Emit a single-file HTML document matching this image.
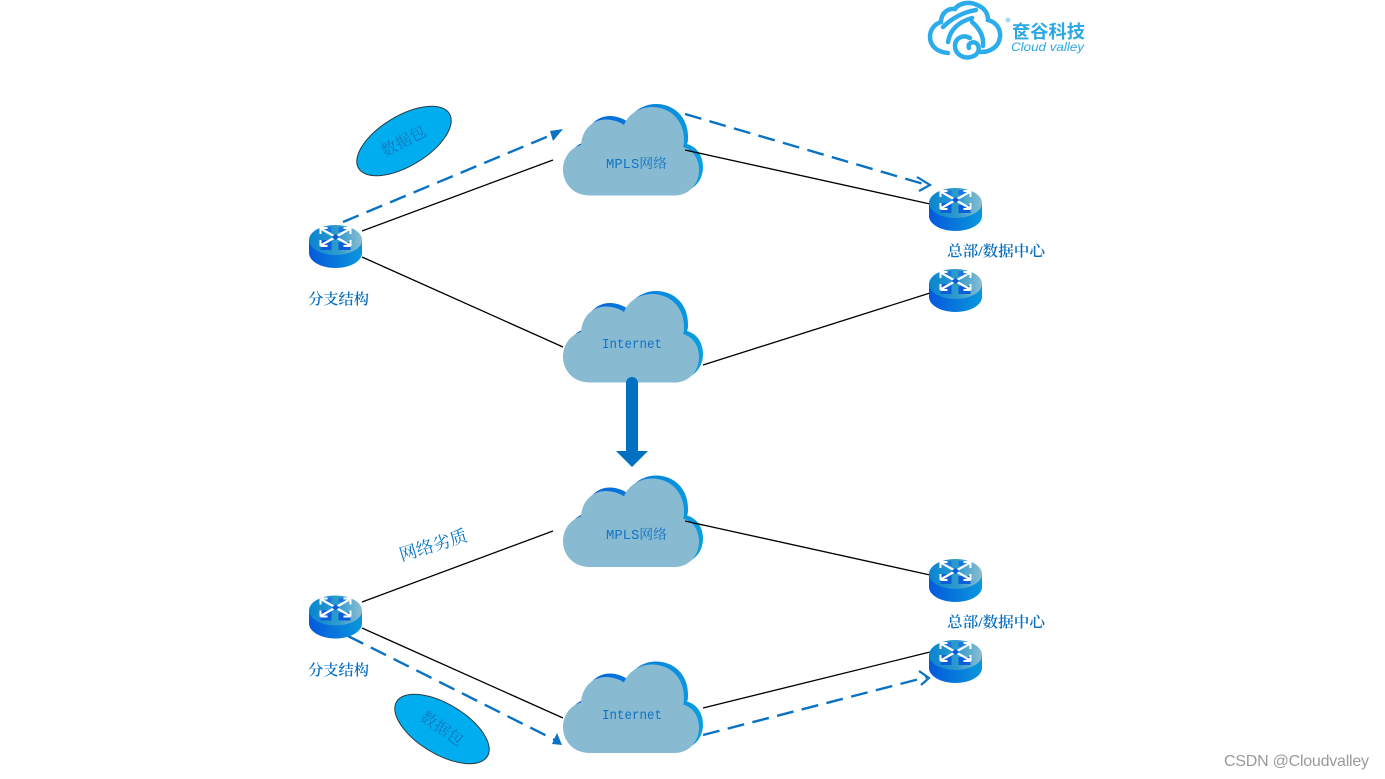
<!DOCTYPE html>
<html><head><meta charset="utf-8"><style>
html,body{margin:0;padding:0;background:#fff;width:1385px;height:779px;overflow:hidden}
svg{display:block}
.l{font-family:"Liberation Serif","Noto Serif CJK SC",serif;fill:#0a6fc0;font-size:15px;font-weight:600}
.c{font-family:"Liberation Mono","Noto Serif CJK SC",monospace;fill:#1272c4;font-size:13.5px;font-weight:400}
.e{font-family:"Liberation Serif","Noto Serif CJK SC",serif;fill:#1478c0;font-size:16px}
.p{font-family:"Liberation Serif","Noto Serif CJK SC",serif;fill:#0a78c8;font-size:17.5px;font-weight:400}
.k{stroke:#000;stroke-width:1.3;fill:none}
.d{stroke:#0a72c2;stroke-width:2.4;fill:none;stroke-dasharray:17 8.5}
.o{stroke:#0a72c2;stroke-width:2.2;fill:none}
</style></head><body>
<svg width="1385" height="779" viewBox="0 0 1385 779" xmlns="http://www.w3.org/2000/svg">
<defs>
<linearGradient id="cb" x1="0" y1="0" x2="1" y2="0"><stop offset="0" stop-color="#0558d8"/><stop offset="1" stop-color="#0aa0e0"/></linearGradient>
<linearGradient id="rt" x1="0" y1="0" x2="1" y2="0"><stop offset="0" stop-color="#0884d0"/><stop offset="0.55" stop-color="#2f9ccc"/><stop offset="1" stop-color="#8dbdd2"/></linearGradient>
<linearGradient id="rs" x1="0" y1="0" x2="1" y2="0"><stop offset="0" stop-color="#0558dc"/><stop offset="1" stop-color="#0a98dc"/></linearGradient>
<g id="cloud">
<path fill="url(#cb)" d="M594,192C576,192 567,179 567,167C567,155 574,145 585,142C586,127 596,116 610,116C617,116 624,119 628,122C632,111 644,104 656,104C674,104 688,117 688,137C688,140 688,142 687,144C698,147 703,157 703,167C703,182 692,192 679,192Z"/>
<path fill="#88bbd1" d="M590,195.500C572,195.500 563,182 563,170C563,158 570,148 581,145C582,130 592,119.500 606,119.500C613,119.500 620,122 624,125C628,114 640,107 652,107C670,107 684,120 684,140C684,143 684,145 683,147C694,150 699,160 699,170C699,185 688,195.500 675,195.500Z"/>
</g>
<g id="router">
<path fill="url(#rs)" d="M-26.500,0V13C-26.500,21 -15,28 0,28C15,28 26.500,21 26.500,13V0Z"/>
<ellipse cx="0" cy="0" rx="26.500" ry="15" fill="url(#rt)"/>
<path fill="#0a5ed8" d="M-15,0h11v10h-11zM3,2h12v8h-12z"/>
<path fill="#1a78e0" d="M-12,-13h8v5h-8zM3,-13h9v5h-9z"/>
<path d="M-14,-11L14,5M14,-11L-14,5" stroke="#fff" stroke-width="2.200" fill="none"/>
<path d="M-15,-12h7M-15,-12v6M15,-12h-7M15,-12v6M-15,6h7M-15,6v-6M15,6h-7M15,6v-6" stroke="#fff" stroke-width="2" fill="none"/>
<path d="M-4,-3L0,-6L4,-3L0,0Z" fill="#0a5ed8"/>
</g>
</defs>

<!-- logo -->
<g fill="none" stroke="#2cacea" stroke-width="4.500" stroke-linecap="round">
<path d="M948,53C936,52 930,45 930,37C930,29 935,24 941,22C941,13 948,8 955,9C959,3 969,1 977,5C985,8 988,14 988,20C996,22 1001,29 1000,37C999,47 990,52 981,52"/>
<path d="M943,27C952,18 964,12 976,10"/>
<path d="M948,42C950,30 958,22 972,18"/>
<path d="M972,22C979,28 984,36 983,46"/>
<path d="M970,38C963,34 955,38 955,46C955,54 963,59 971,57C979,55 981,47 976,43C972,41 967,44 969,48"/>
</g>
<circle cx="1008" cy="20" r="2.500" fill="#a9d9f0"/>
<text x="1012" y="38" font-family="'Liberation Sans','Noto Sans CJK SC',sans-serif" font-size="18" font-weight="700" fill="#2aa8e8" textLength="73" lengthAdjust="spacingAndGlyphs">奁谷科技</text>
<text x="1011" y="51" font-family="'Liberation Sans',sans-serif" font-style="italic" font-size="11.500" fill="#2aa8e8" textLength="73" lengthAdjust="spacingAndGlyphs">Cloud valley</text>

<!-- black lines -->
<path class="k" d="M362,231L553,160M362,257L563,347M685,150L930,204M703,365L930,293M362,602L553,531M362,628L563,718M685,521L930,575M703,708L930,652"/>

<!-- clouds -->
<use href="#cloud"/>
<use href="#cloud" y="187"/>
<use href="#cloud" y="371.500"/>
<use href="#cloud" y="557.500"/>
<path class="k" d="M685,150L703,154M685,521L703,525"/>

<!-- dashed -->
<path class="d" d="M343,222L556,133"/>
<path fill="#0a72c2" d="M563,129L553,141L550,131Z"/>
<path class="d" d="M685,114L927,185"/>
<path class="o" d="M917,177L930,185L919,191"/>
<path class="d" d="M348,636L555,740"/>
<path fill="#0a72c2" d="M562,745L552,744L557,733Z"/>
<path class="d" d="M703,735L927,677"/>
<path class="o" d="M919,671L929,678L921,685"/>

<!-- routers -->
<use href="#router" x="335.500" y="240"/>
<use href="#router" x="955.500" y="203"/>
<use href="#router" x="955.500" y="284"/>
<use href="#router" x="335.500" y="610.500"/>
<use href="#router" x="955.500" y="574"/>
<use href="#router" x="955.500" y="655"/>

<!-- big arrow -->
<path fill="#0070c0" d="M626,383A6,6 0 0 1 638,383V451H648L632,467L616,451H626Z"/>

<!-- ellipses -->
<ellipse cx="404" cy="141" rx="53" ry="25" transform="rotate(-31 404 141)" fill="#00aeef" stroke="#2a3a44" stroke-width="1"/>
<ellipse cx="442" cy="729" rx="53" ry="25" transform="rotate(31 442 729)" fill="#00aeef" stroke="#2a3a44" stroke-width="1"/>
<text class="e" text-anchor="middle" transform="translate(406 146) rotate(-28)">数据包</text>
<text class="e" text-anchor="middle" transform="translate(439 733) rotate(34)">数据包</text>

<!-- labels -->
<text class="c" x="606" y="168" textLength="61" lengthAdjust="spacingAndGlyphs">MPLS网络</text>
<text class="c" x="602" y="348" textLength="60" lengthAdjust="spacingAndGlyphs">Internet</text>
<text class="c" x="606" y="539" textLength="61" lengthAdjust="spacingAndGlyphs">MPLS网络</text>
<text class="c" x="602" y="719" textLength="60" lengthAdjust="spacingAndGlyphs">Internet</text>
<text class="l" x="308" y="304" textLength="61" lengthAdjust="spacingAndGlyphs">分支结构</text>
<text class="l" x="308" y="675" textLength="61" lengthAdjust="spacingAndGlyphs">分支结构</text>
<text class="l" x="947" y="256" textLength="98" lengthAdjust="spacingAndGlyphs">总部/数据中心</text>
<text class="l" x="947" y="627" textLength="98" lengthAdjust="spacingAndGlyphs">总部/数据中心</text>
<text class="p" text-anchor="middle" transform="translate(435 551) rotate(-17)">网络劣质</text>

<text x="1224" y="766" font-family="'Liberation Sans',sans-serif" font-size="16" fill="#9a9a9a" textLength="145">CSDN @Cloudvalley</text>
</svg>
</body></html>
